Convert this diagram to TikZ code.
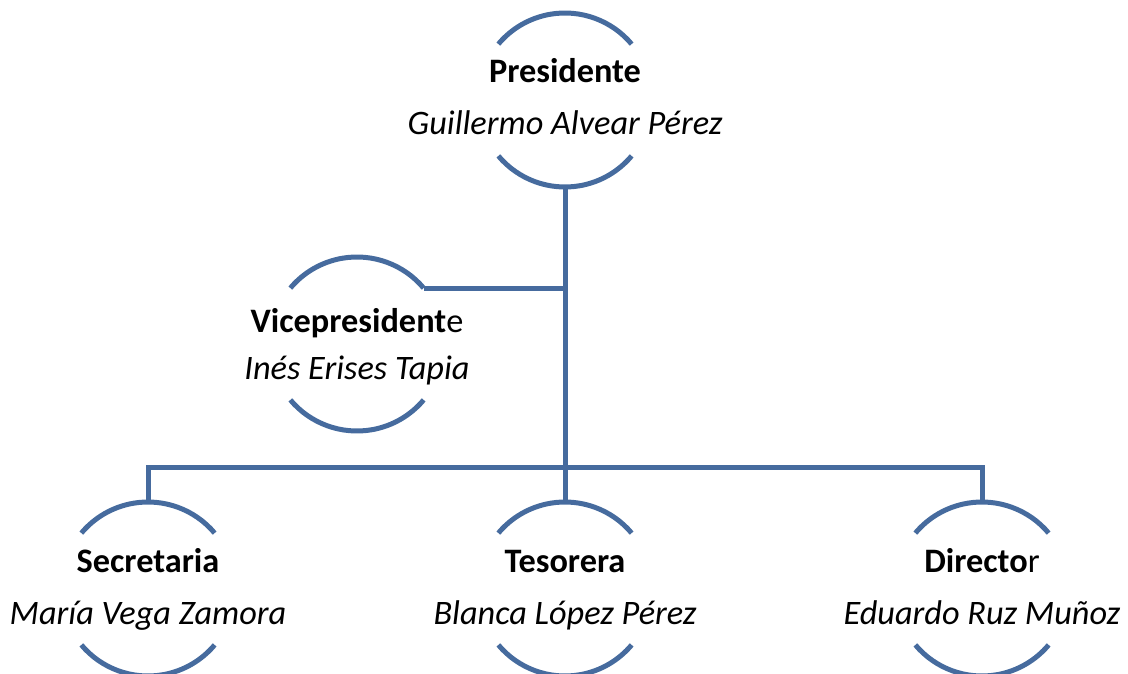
\documentclass[tikz,border=0pt]{standalone}
\usepackage{fontspec}
\setmainfont{Carlito}
\usepackage{tikz}
\definecolor{orgblue}{RGB}{70,107,158}

\begin{document}
\begin{tikzpicture}[x=1pt, y=1pt,
    person/.style={circle, minimum size=174pt, inner sep=0pt, outer sep=0pt},
    ring/.style={orgblue, line width=5pt},
    link/.style={orgblue, line width=5pt},
    role/.style={anchor=base, font=\fontsize{34.3}{40}\selectfont\bfseries},
    who/.style={anchor=base, font=\fontsize{34.3}{40}\selectfont\itshape}]

    \useasboundingbox (0,0) rectangle (1128,-674);

    \node[person] (pres) at (565,-100) {};
    \node[person] (vice) at (357,-344) {};
    \node[person] (sec) at (148,-589) {};
    \node[person] (tes) at (565,-589) {};
    \node[person] (dir) at (982,-589) {};

    % half rings above and below every name
    \foreach \n in {pres,vice,sec,tes,dir} {
        \draw[ring] (\n.40) arc (40:140:87);
        \draw[ring] (\n.220) arc (220:320:87);
    }

    \coordinate (bus) at (565,-467);

    \draw[link] (pres.south) -- (tes.north);
    \draw[link] (vice.40) -- (vice.40 -| pres.south);
    \draw[link] (sec.north) -- (sec.north |- bus) -- (dir.north |- bus) -- (dir.north);

    \node[role] (presR) at ([yshift=17pt]pres.center) {Presidente};
    \node[who] (presW) at ([yshift=-35pt]pres.center) {Guillermo Alvear Pérez};

    \node[role] (viceR) at ([yshift=12pt]vice.center) {Vicepresident\mdseries e};
    \node[who] (viceW) at ([yshift=-35pt]vice.center) {Inés Erises Tapia};

    \node[role] (secR) at ([yshift=17pt]sec.center) {Secretaria};
    \node[who] (secW) at ([yshift=-35pt]sec.center) {María Vega Zamora};

    \node[role] (tesR) at ([yshift=17pt]tes.center) {Tesorera};
    \node[who] (tesW) at ([yshift=-35pt]tes.center) {Blanca López Pérez};

    \node[role] (dirR) at ([yshift=17pt]dir.center) {Directo\mdseries r};
    \node[who] (dirW) at ([yshift=-35pt]dir.center) {Eduardo Ruz Muñoz};

\end{tikzpicture}
\end{document}
